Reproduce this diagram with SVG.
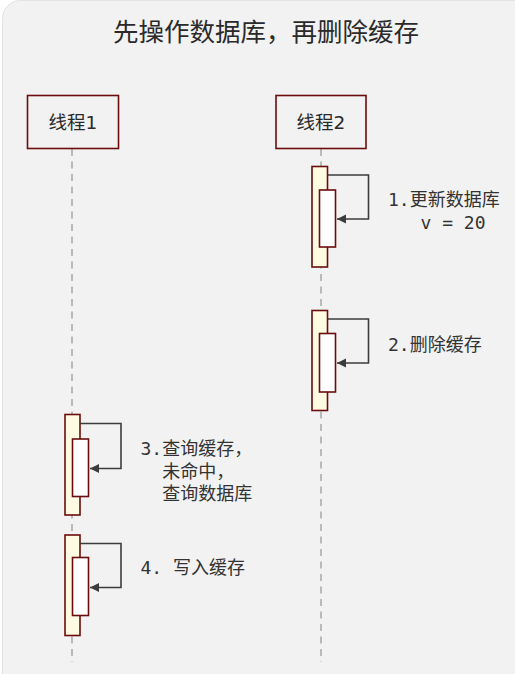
<svg xmlns="http://www.w3.org/2000/svg" width="515" height="674" viewBox="0 0 515 674">
<style>
.bg{fill:#f2f2f2;stroke:#e2e2e2;stroke-width:1}
.head{fill:#f2f2f2;stroke:#6b0d0d;stroke-width:1.6}
.act{fill:#fffbe3;stroke:#6b0d0d;stroke-width:1.6}
.inner{fill:#ffffff;stroke:#6b0d0d;stroke-width:1.6}
.life{stroke:#a8a8a8;stroke-width:1.5;stroke-dasharray:7 5.5;fill:none}
.loop{fill:none;stroke:#3c3c3c;stroke-width:1.6}
.title{font-family:"Noto Sans CJK SC","Noto Sans",sans-serif;font-size:25.5px;fill:#2a2a2a}
.hl{font-family:"DejaVu Sans","Noto Sans CJK SC",sans-serif;font-size:18.5px;fill:#2a2a2a}
.lbl{font-family:"DejaVu Sans Mono","Noto Sans CJK SC",monospace;font-size:18px;fill:#333333}
</style>
<defs>
<marker id="ah" markerWidth="10" markerHeight="10" refX="9" refY="5" orient="auto" markerUnits="userSpaceOnUse">
<path d="M0,0.5 L9,5 L0,9.5 Z" fill="#3c3c3c"/>
</marker>
</defs>
<rect width="515" height="674" fill="#ffffff"/>
<rect class="bg" x="2.5" y="0.5" width="540" height="700" rx="18"/>
<text class="title" x="266" y="41" text-anchor="middle">先操作数据库，再删除缓存</text>
<g id="lifelines">
<line class="life" x1="72" y1="149" x2="72" y2="662"/>
<line class="life" x1="321" y1="149" x2="321" y2="662"/>
</g>
<g id="thread1">
<rect class="head" x="27.5" y="95.5" width="91" height="53"/>
<text class="hl" x="73" y="128.5" text-anchor="middle">线程1</text>
</g>
<g id="thread2">
<rect class="head" x="276" y="95.5" width="90" height="53"/>
<text class="hl" x="321" y="128.5" text-anchor="middle">线程2</text>
</g>
<g id="act2a">
<rect class="act" x="312" y="166.5" width="15.5" height="100.5"/>
<rect class="inner" x="319.5" y="190" width="16" height="57"/>
</g>
<g id="act2b">
<rect class="act" x="312" y="310.5" width="15.5" height="100"/>
<rect class="inner" x="319.5" y="333.5" width="16" height="58.5"/>
</g>
<g id="act1a">
<rect class="act" x="65" y="414.5" width="15" height="100.5"/>
<rect class="inner" x="72.5" y="439" width="16" height="57.5"/>
</g>
<g id="act1b">
<rect class="act" x="65" y="535" width="15" height="100.5"/>
<rect class="inner" x="72.5" y="557.5" width="16" height="58"/>
</g>
<g id="connectors">
<path class="loop" d="M327.5,175 H368.5 V219 H337" marker-end="url(#ah)"/>
<path class="loop" d="M327.5,319 H368.5 V363 H337" marker-end="url(#ah)"/>
<path class="loop" d="M80,423.5 H121 V468.5 H90" marker-end="url(#ah)"/>
<path class="loop" d="M80,543.5 H121 V587.5 H90" marker-end="url(#ah)"/>
</g>
<g id="labels">
<text class="lbl" x="388" y="205.5">1.更新数据库</text>
<text class="lbl" x="388" y="228.5" xml:space="preserve">   v = 20</text>
<text class="lbl" x="388" y="350.5">2.删除缓存</text>
<text class="lbl" x="140.5" y="454.5">3.查询缓存，</text>
<text class="lbl" x="140.5" y="477.5" xml:space="preserve">  未命中，</text>
<text class="lbl" x="140.5" y="499.5" xml:space="preserve">  查询数据库</text>
<text class="lbl" x="140.5" y="573.5">4. 写入缓存</text>
</g>
</svg>
